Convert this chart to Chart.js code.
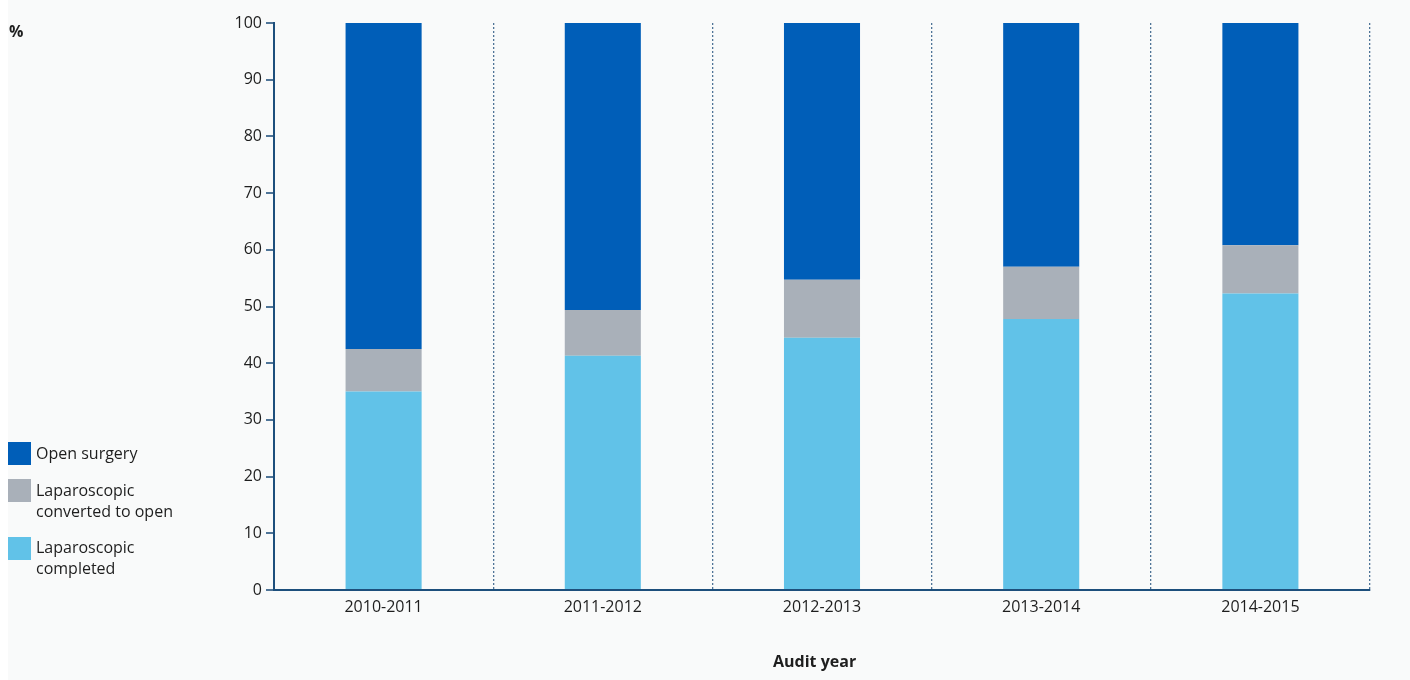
<!DOCTYPE html>
<html>
<head>
<meta charset="utf-8">
<script src="https://cdn.jsdelivr.net/npm/chart.js@4/dist/chart.umd.min.js"></script>
<style>
  html, body { margin: 0; padding: 0; background: #ffffff; }
  #wrap { position: relative; width: 1410px; height: 680px; overflow: hidden; }
  #bg { position: absolute; left: 8px; top: 0; width: 1402px; height: 680px; background: #f9fafa; }
  canvas { position: absolute; left: 0; top: 0; }
  .txt { position: absolute; font-family: "Open Sans", "Noto Sans", sans-serif; color: #1e1e1e; font-size: 16px; line-height: 21px; white-space: nowrap; }
  .bold { font-weight: bold; }
  .sw { position: absolute; width: 23px; height: 23px; }
</style>
</head>
<body>
<div id="wrap">
  <div id="bg"></div>
  <canvas id="c" width="1410" height="680"></canvas>
  <div class="txt bold" style="left:9px; top:21px;">%</div>
  <div class="txt bold" style="left:773px; top:651px;">Audit year</div>
  <div class="sw" style="left:8px; top:442px; background:#005EB8;"></div>
  <div class="txt" style="left:36px; top:443px;">Open surgery</div>
  <div class="sw" style="left:8px; top:479px; background:#A9B0B9;"></div>
  <div class="txt" style="left:36px; top:480px;">Laparoscopic<br>converted to open</div>
  <div class="sw" style="left:8px; top:537px; background:#61C2E8;"></div>
  <div class="txt" style="left:36px; top:537px;">Laparoscopic<br>completed</div>
</div>
<script>
const categories = ["2010-2011", "2011-2012", "2012-2013", "2013-2014", "2014-2015"];
const lapCompleted = [35.0, 41.3, 44.5, 47.8, 52.3];
const lapConverted = [7.5, 8.1, 10.2, 9.2, 8.5];
const openSurgery = [57.5, 50.6, 45.3, 43.0, 39.2];
const seriesNames = ["Laparoscopic completed", "Laparoscopic converted to open", "Open surgery"];
const yTicks = [0, 10, 20, 30, 40, 50, 60, 70, 80, 90, 100];

const FONT = { family: '"Open Sans", "Noto Sans", sans-serif', size: 16 };
const AXIS = '#1d4f7c';
const GRID = '#4f7497';

new Chart(document.getElementById('c'), {
  type: 'bar',
  data: {
    labels: categories,
    datasets: [
      { label: seriesNames[0], data: lapCompleted, backgroundColor: '#61C2E8' },
      { label: seriesNames[1], data: lapConverted, backgroundColor: '#A9B0B9' },
      { label: seriesNames[2], data: openSurgery, backgroundColor: '#005EB8' }
    ]
  },
  options: {
    responsive: false,
    animation: false,
    devicePixelRatio: 1,
    layout: { padding: { left: 0, right: 40, top: 23, bottom: 0 } },
    plugins: { legend: { display: false }, tooltip: { enabled: false } },
    datasets: { bar: { categoryPercentage: 1, barPercentage: 0.347, borderWidth: 0 } },
    scales: {
      x: {
        stacked: true,
        afterFit: (s) => { s.height = 90; },
        grid: {
          display: true, offset: true, drawOnChartArea: true, drawTicks: false,
          color: GRID, lineWidth: 1.3, tickLength: 0
        },
        border: { display: true, color: AXIS, width: 2, dash: [2, 2] },
        ticks: { font: FONT, color: '#1e1e1e', padding: 8 }
      },
      y: {
        stacked: true,
        min: 0, max: 100,
        afterFit: (s) => { s.width = 274; },
        afterBuildTicks: (s) => { s.ticks = yTicks.map(v => ({ value: v })); },
        grid: { drawOnChartArea: false, drawTicks: true, tickLength: 8, color: GRID, lineWidth: 2 },
        border: { display: true, color: AXIS, width: 2 },
        ticks: { font: FONT, color: '#1e1e1e', padding: 4 }
      }
    }
  }
});
</script>
</body>
</html>
